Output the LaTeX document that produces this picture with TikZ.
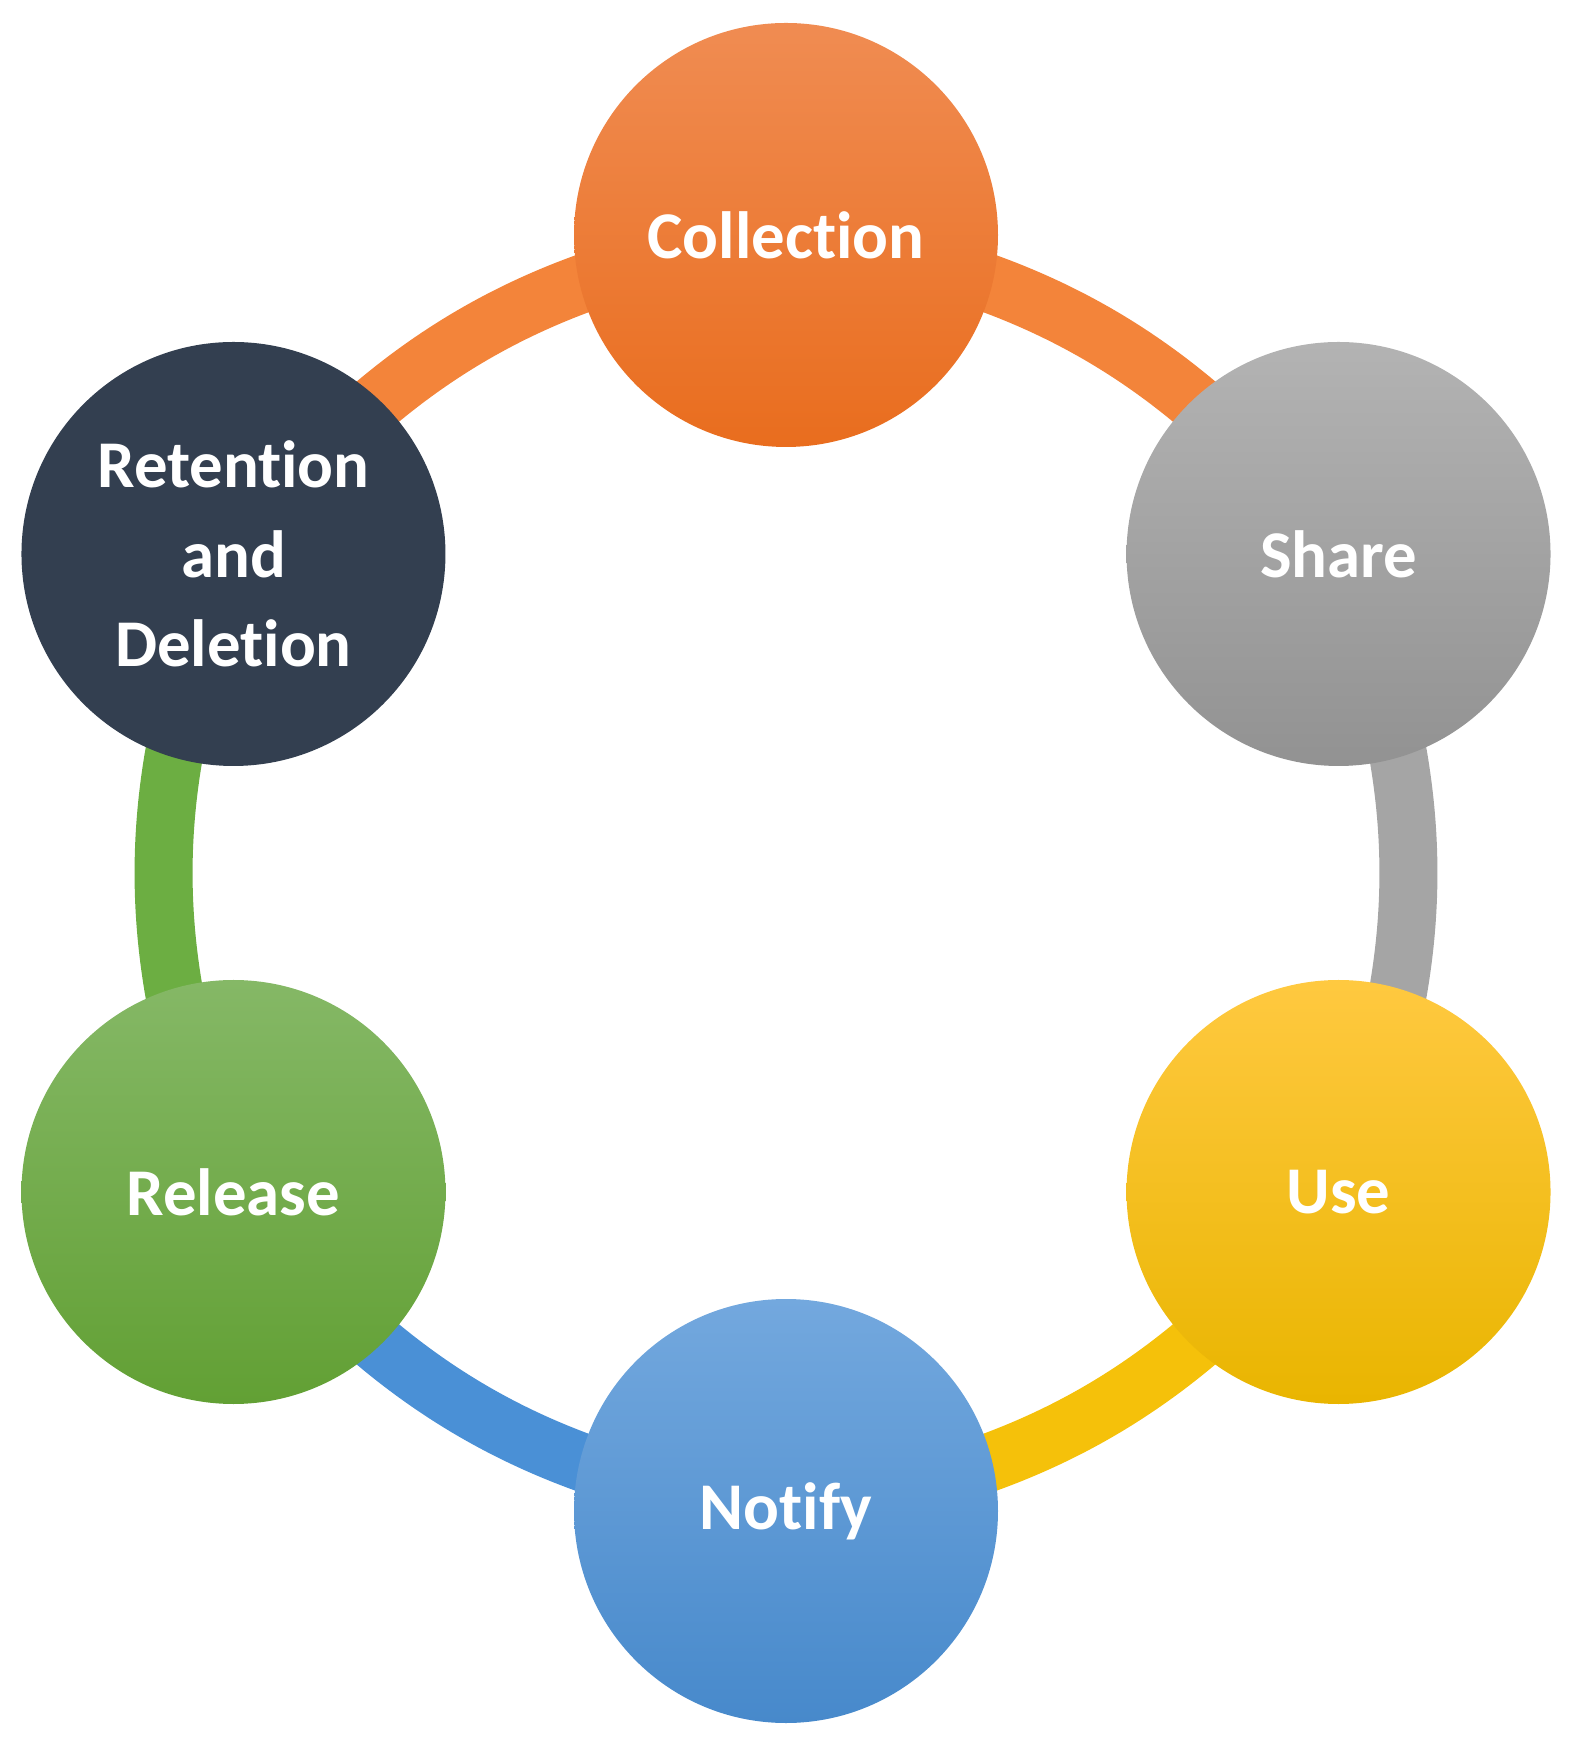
\documentclass[tikz,border=0pt]{standalone}
\usepackage{fontspec}
\setmainfont{Carlito}[Ligatures=NoCommon]
\usepackage{tikz}
\usetikzlibrary{backgrounds}

\definecolor{colltop}{HTML}{F08C52}
\definecolor{collbot}{HTML}{E96D1E}
\definecolor{sharetop}{HTML}{B3B3B3}
\definecolor{sharebot}{HTML}{929292}
\definecolor{usetop}{HTML}{FFC940}
\definecolor{usebot}{HTML}{E9B500}
\definecolor{notifytop}{HTML}{73A8DE}
\definecolor{notifybot}{HTML}{4789CB}
\definecolor{reltop}{HTML}{85B866}
\definecolor{relbot}{HTML}{62A034}
\definecolor{retain}{HTML}{333F50}
\definecolor{ringorange}{HTML}{F3843A}
\definecolor{ringgray}{HTML}{A5A5A5}
\definecolor{ringyellow}{HTML}{F5C10A}
\definecolor{ringblue}{HTML}{4A90D6}
\definecolor{ringgreen}{HTML}{6CAE42}

\begin{document}
\begin{tikzpicture}[stage/.style={shape=circle,minimum size=4.24cm,inner sep=0pt,text=white,align=center,font=\fontsize{19}{25.5}\selectfont\bfseries},
ring/.style={line width=0.58cm,bend left=22}]
\useasboundingbox (-7.86,-8.80) rectangle (7.89,8.73);
%[hexagon of stages]
\path (90:6.38) node (collection) [stage,top color=colltop,bottom color=collbot] {Collection};
\path (30:6.38) node (share) [stage,top color=sharetop,bottom color=sharebot] {Share};
\path (-30:6.38) node (use) [stage,top color=usetop,bottom color=usebot] {Use};
\path (-90:6.38) node (notify) [stage,top color=notifytop,bottom color=notifybot] {Notify};
\path (-150:6.38) node (release) [stage,top color=reltop,bottom color=relbot] {Release};
\path (150:6.38) node (retention) [stage,fill=retain] {Retention\\and\\Deletion};

\begin{scope}[on background layer]
\draw [ring,ringorange] (retention.center) to (collection.center);
\draw [ring,ringorange] (collection.center) to (share.center);
\draw [ring,ringgray] (share.center) to (use.center);
\draw [ring,ringyellow] (use.center) to (notify.center);
\draw [ring,ringblue] (notify.center) to (release.center);
\draw [ring,ringgreen] (release.center) to (retention.center);
\end{scope}
\end{tikzpicture}
\end{document}
